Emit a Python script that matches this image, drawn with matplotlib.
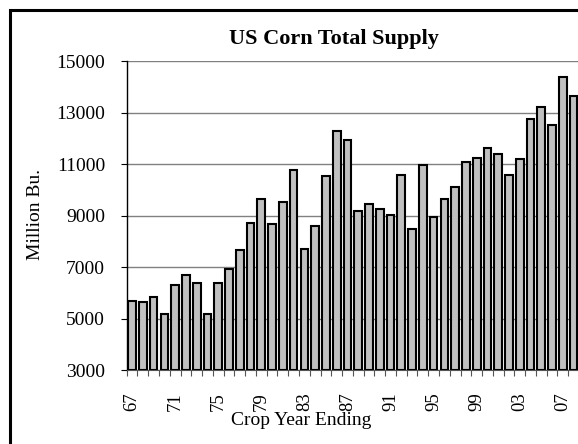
import matplotlib
matplotlib.use("Agg")
import matplotlib.pyplot as plt
from matplotlib.patches import Rectangle

# datos: oferta total de maiz en EEUU (millones de bushels)
anios = ["67", "68", "69", "70", "71", "72", "73", "74", "75", "76", "77", "78",
         "79", "80", "81", "82", "83", "84", "85", "86", "87", "88", "89", "90",
         "91", "92", "93", "94", "95", "96", "97", "98", "99", "00", "01", "02",
         "03", "04", "05", "06", "07", "08"]
oferta = [5690, 5625, 5820, 5160, 6310, 6700, 6375, 5185, 6400, 6930, 7655, 8715,
          9635, 8690, 9520, 10770, 7705, 8580, 10525, 12285, 11960, 9180, 9450, 9270,
          9025, 10590, 8470, 10950, 8950, 9660, 10100, 11070, 11225, 11640, 11390, 10575,
          11195, 12775, 13215, 12505, 14390, 13655]
marcas_y = [3000, 5000, 7000, 9000, 11000, 13000, 15000]

plt.rcParams['font.family'] = ['Liberation Serif', 'DejaVu Serif']

fig = plt.figure(figsize=(5.78, 4.44), dpi=100)
ax = fig.add_axes([126.7 / 578, 74 / 444, 452.3 / 578, 308.7 / 444])

x = list(range(len(anios)))
ax.bar(x, [v - 3000 for v in oferta], bottom=3000, width=0.72,
       color="#c0c0c0", edgecolor="black", linewidth=1.5, zorder=3)

ax.set_ylim(3000, 15000)
ax.set_xlim(-0.5, len(anios) - 0.5)
ax.set_yticks(marcas_y)
ax.set_yticklabels([str(v) for v in marcas_y], fontsize=14)
ax.yaxis.grid(True, color="#808080", linewidth=1, zorder=0)
ax.tick_params(axis="y", direction="out", length=4.5, width=0.8, pad=11)

# etiquetas cada 4 anios, marcas entre categorias
ax.set_xticks(x[::4])
ax.set_xticklabels(anios[::4], rotation=90, fontsize=13.5)
ax.set_xticks([i - 0.5 for i in range(len(anios) + 1)], minor=True)
ax.tick_params(axis="x", which="major", length=0, pad=16)
ax.tick_params(axis="x", which="minor", direction="out", length=4, width=0.8, color="#555555")

for lado in ["top", "right"]:
    ax.spines[lado].set_visible(False)
ax.spines["left"].set_linewidth(1)
ax.spines["bottom"].set_color("#555555")

fig.text(334 / 578, 1 - 39 / 444, "US Corn Total Supply", ha="center", va="center",
         fontsize=16, fontweight="bold")
fig.text(35 / 578, 1 - 214 / 444, "Million Bu.", rotation=90, ha="center", va="center",
         fontsize=14)
fig.text(301 / 578, 1 - 420 / 444, "Crop Year Ending", ha="center", va="center",
         fontsize=14)

# marco del grafico
fig.patches.append(Rectangle((10 / 578, -0.1), 1.2, 1.1 - 10 / 444, transform=fig.transFigure,
                             fill=False, edgecolor="black", linewidth=2.2))

fig.savefig("out.png", dpi=100)
